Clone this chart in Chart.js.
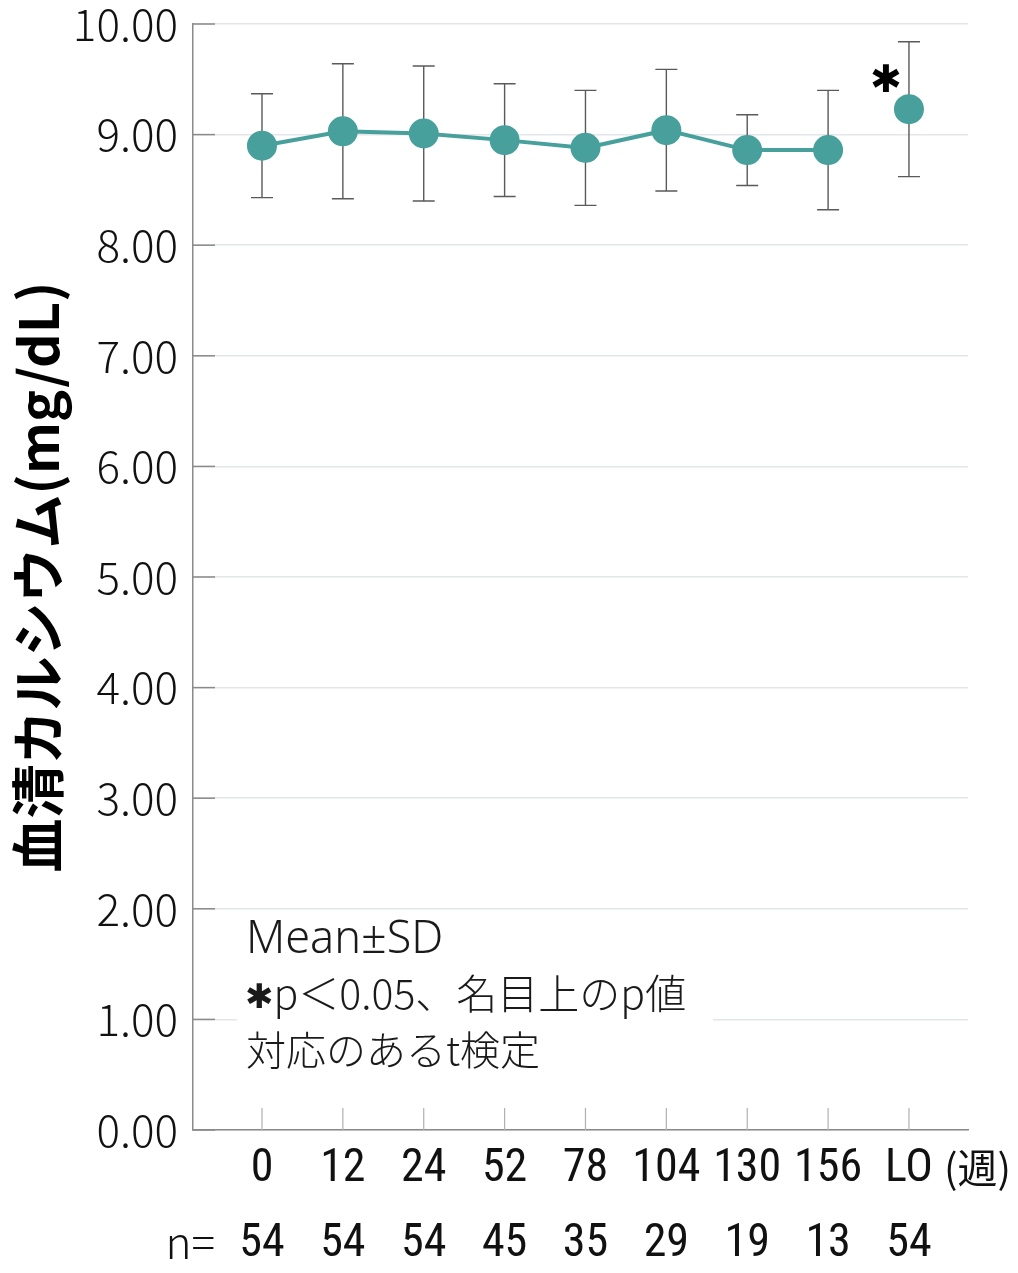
<!DOCTYPE html>
<html>
<head>
<meta charset="utf-8">
<script src="https://cdn.jsdelivr.net/npm/chart.js@4.4.1/dist/chart.umd.min.js"></script>
<style>
html,body{margin:0;padding:0;background:#fff;}
#wrap{width:1018px;height:1273px;position:relative;}
</style>
</head>
<body>
<div id="wrap"><canvas id="c" width="1018" height="1273"></canvas></div>
<script>
// ---- data ----
const categories = ['0', '12', '24', '52', '78', '104', '130', '156', 'LO'];
const nCounts = ['54', '54', '54', '45', '35', '29', '19', '13', '54'];
const meanValues = [8.90, 9.03, 9.01, 8.95, 8.88, 9.04, 8.86, 8.86, 9.23];
const sdValues = [0.47, 0.61, 0.61, 0.51, 0.52, 0.55, 0.32, 0.54, 0.61];
const significant = [false, false, false, false, false, false, false, false, true];
const yTickValues = [0, 1, 2, 3, 4, 5, 6, 7, 8, 9, 10];
const yTitle = '血清カルシウム(mg/dL)';
const unitLabel = '(週)';
const nLabel = 'n=';
const noteLines = ['Mean±SD', '✱p＜0.05、名目上のp値', '対応のあるt検定'];

const teal = '#47a09c';
const lightFont = '"Noto Sans CJK JP Light", "Noto Sans CJK JP", "Noto Sans", sans-serif';
const noteFont = '"Noto Sans", "Noto Sans CJK JP", sans-serif';
const narrowFont = '"Liberation Sans Narrow", "Roboto Condensed", "Liberation Sans", sans-serif';

const lineCount = 8; // connected series (0..156 weeks)
const lineData = meanValues.slice(0, lineCount).map((y, i) => ({x: i, y}));
const loData = meanValues.slice(lineCount).map((y, i) => ({x: lineCount + i, y}));

const extrasPlugin = {
  id: 'extras',
  beforeDatasetsDraw(chart) {
    const ctx = chart.ctx;
    const xs = chart.scales.x, ys = chart.scales.y;
    const area = chart.chartArea;
    ctx.save();
    // y inner tick marks
    ctx.strokeStyle = '#8a8a8a';
    ctx.lineWidth = 1.5;
    yTickValues.forEach(v => {
      const py = ys.getPixelForValue(v);
      ctx.beginPath(); ctx.moveTo(area.left, py); ctx.lineTo(area.left + 22, py); ctx.stroke();
    });
    // x inner tick marks
    ctx.strokeStyle = '#b0b0b0';
    ctx.lineWidth = 1.2;
    categories.forEach((c, i) => {
      const px = xs.getPixelForValue(i);
      ctx.beginPath(); ctx.moveTo(px, area.bottom - 22); ctx.lineTo(px, area.bottom); ctx.stroke();
    });
    // note box (white background covering gridlines)
    ctx.fillStyle = '#ffffff';
    ctx.fillRect(237, 914, 476, 166);
    ctx.fillStyle = '#1a1a1a';
    ctx.textAlign = 'left';
    ctx.textBaseline = 'alphabetic';
    noteLines.forEach((t, i) => {
      const y = 953 + i * 56;
      if (i === 0) {
        ctx.font = '300 45px ' + noteFont;
        ctx.fillText(t, 246, y);
      } else if (i === 1) {
        ctx.font = 'bold 34px "DejaVu Sans", sans-serif';
        ctx.fillText(t.charAt(0), 245, y - 1);
        const w = ctx.measureText(t.charAt(0)).width;
        ctx.font = '300 41px ' + lightFont;
        ctx.fillText(t.slice(1), 245 + w, y);
      } else {
        ctx.font = '300 40px ' + lightFont;
        ctx.fillText(t, 246, y);
      }
    });
    // error bars
    ctx.strokeStyle = '#5a5a5a';
    ctx.lineWidth = 1.4;
    meanValues.forEach((m, i) => {
      const px = xs.getPixelForValue(i);
      const top = ys.getPixelForValue(m + sdValues[i]);
      const bot = ys.getPixelForValue(m - sdValues[i]);
      ctx.beginPath();
      ctx.moveTo(px, top); ctx.lineTo(px, bot);
      ctx.moveTo(px - 11, top); ctx.lineTo(px + 11, top);
      ctx.moveTo(px - 11, bot); ctx.lineTo(px + 11, bot);
      ctx.stroke();
    });
    ctx.restore();
  },
  afterDraw(chart) {
    const ctx = chart.ctx;
    const xs = chart.scales.x, ys = chart.scales.y;
    const area = chart.chartArea;
    ctx.save();
    // significance asterisks
    ctx.fillStyle = '#000';
    ctx.font = 'bold 38px "DejaVu Sans", sans-serif';
    ctx.textAlign = 'center';
    ctx.textBaseline = 'middle';
    significant.forEach((s, i) => {
      if (!s) return;
      const px = xs.getPixelForValue(i);
      const py = ys.getPixelForValue(meanValues[i]);
      ctx.fillText('✱', px - 23, py - 27);
    });
    // n= label and unit
    ctx.font = '300 44px ' + lightFont;
    ctx.textAlign = 'right';
    ctx.fillStyle = '#111';
    ctx.fillText(nLabel, area.left + 22, 1242);
    ctx.font = '40px "Noto Sans CJK JP", sans-serif';
    ctx.textAlign = 'left';
    ctx.fillText(unitLabel, 944, 1168);
    ctx.restore();
  }
};

new Chart(document.getElementById('c'), {
  type: 'line',
  data: {
    datasets: [
      {
        data: lineData,
        borderColor: teal,
        backgroundColor: teal,
        borderWidth: 4,
        pointRadius: 15,
        pointHoverRadius: 15,
        pointBackgroundColor: teal,
        pointBorderWidth: 0,
        tension: 0
      },
      {
        data: loData,
        showLine: false,
        borderColor: teal,
        backgroundColor: teal,
        pointRadius: 15,
        pointHoverRadius: 15,
        pointBackgroundColor: teal,
        pointBorderWidth: 0
      }
    ]
  },
  options: {
    responsive: false,
    animation: false,
    devicePixelRatio: 1,
    layout: {padding: {top: 24, right: 50, bottom: 0, left: 0}},
    plugins: {legend: {display: false}, tooltip: {enabled: false}},
    scales: {
      x: {
        type: 'linear',
        min: -0.853,
        max: 8.73,
        afterBuildTicks: s => { s.ticks = categories.map((c, i) => ({value: i})); },
        afterFit: s => { s.height = 143; s.paddingLeft = 0; s.paddingRight = 0; },
        grid: {display: false, drawTicks: false},
        border: {display: true, color: '#8a8a8a', width: 1.5},
        ticks: {
          autoSkip: false,
          maxRotation: 0,
          padding: 2,
          color: '#111',
          font: {family: narrowFont, size: 46, lineHeight: 1.63},
          callback: (v, i) => [categories[i], nCounts[i]]
        }
      },
      y: {
        min: 0,
        max: 10,
        afterBuildTicks: s => { s.ticks = yTickValues.map(v => ({value: v})); },
        afterFit: s => { s.width = 193; s.paddingTop = 0; s.paddingBottom = 0; },
        grid: {color: '#e3e6e9', lineWidth: 1.5, drawTicks: false},
        border: {display: true, color: '#8a8a8a', width: 1.5},
        ticks: {
          padding: 15,
          color: '#111',
          font: {family: lightFont, size: 44, weight: '300'},
          callback: v => Number(v).toFixed(2)
        },
        title: {
          display: true,
          text: yTitle,
          color: '#000',
          font: {family: '"Noto Sans CJK JP", sans-serif', size: 54, weight: 'bold'},
          padding: {top: 6, bottom: 0}
        }
      }
    }
  },
  plugins: [extrasPlugin]
});
</script>
</body>
</html>
